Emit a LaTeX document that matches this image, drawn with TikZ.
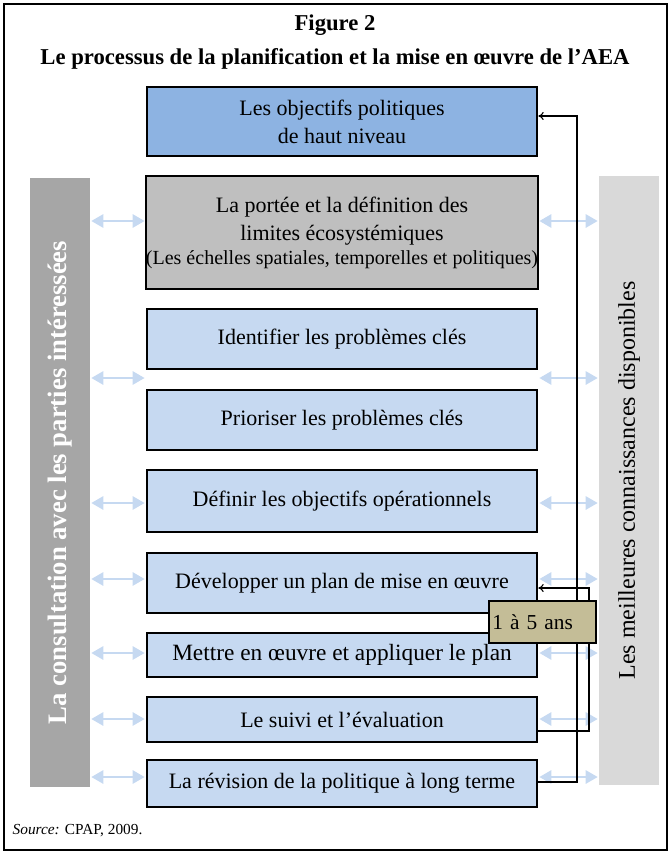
\documentclass[tikz,border=0pt]{standalone}
\usepackage{fontspec}
\setmainfont{Liberation Serif}
\usetikzlibrary{arrows.meta}

\definecolor{bleufonce}{RGB}{141,179,226}
\definecolor{bleuclair}{RGB}{198,217,241}
\definecolor{grisboite}{RGB}{191,191,191}
\definecolor{grisgauche}{RGB}{166,166,166}
\definecolor{grisdroite}{RGB}{217,217,217}
\definecolor{kaki}{RGB}{196,189,151}

\tikzset{
    etape/.style={draw, line width=2pt, fill=bleuclair, minimum width=292.5pt,
        inner sep=0pt, align=center, font=\fontsize{16.5}{21}\selectfont},
    barre/.style={minimum width=456.75pt, minimum height=45pt, inner sep=0pt, rotate=90},
    lien/.style={draw=bleuclair, line width=1.5pt, shorten >=0.8pt, shorten <=0.8pt,
        {Triangle[length=9pt,width=10pt]}-{Triangle[length=9pt,width=10pt]}},
    boucle/.style={draw, line width=0.8pt, -{To[length=4pt,width=6pt]}},
    duree/.style={draw, line width=0.8pt, fill=kaki, minimum width=80.25pt, minimum height=31.5pt,
        inner xsep=2.5pt, text width=75.25pt, align=left, font=\fontsize{16}{19}\selectfont},
}

\begin{document}
\begin{tikzpicture}[x=0.75pt, y=-0.75pt]

        \useasboundingbox (0,0) rectangle (670,853);

        % Cadre
        \draw[line width=1.1pt] (4,4) rectangle (667,850);

        % Titre
        \node[font=\bfseries\fontsize{17}{20}\selectfont] (numero) at (335,25) {Figure 2};
        \node[font=\bfseries\fontsize{17}{20}\selectfont] (titre) at (335,59)
            {Le processus de la planification et la mise en œuvre de l’AEA};

        % Les barres laterales
        \node[barre, fill=grisgauche, text=white, font=\bfseries\fontsize{20}{24}\selectfont]
            (consultation) at (60,482.5) {La consultation avec les parties intéressées};
        \node[barre, fill=grisdroite, font=\fontsize{18}{22}\selectfont]
            (connaissances) at (629,480.5) {Les meilleures connaissances disponibles};

        % Les etapes
        \node[etape, fill=bleufonce, minimum height=51.75pt] (objectifs) at (342,121.5)
            {Les objectifs politiques\\de haut niveau};
        \node[etape, fill=grisboite, minimum height=84.75pt] (portee) at (342,232.5)
            {La portée et la définition des\\limites écosystémiques\\[-3pt]
             {\fontsize{15}{18}\selectfont(Les échelles spatiales, temporelles et politiques)}};
        \node[etape, minimum height=45pt] (identifier) at (342,339) {Identifier les problèmes clés};
        \node[etape, minimum height=45pt] (prioriser) at (342,420) {Prioriser les problèmes clés};
        \node[etape, minimum height=46.5pt] (definir) at (342,501) {Définir les objectifs opérationnels};
        \node[etape, minimum height=45pt] (developper) at (342,583) {Développer un plan de mise en œuvre};
        \node[etape, minimum height=33pt, font=\fontsize{17.5}{21}\selectfont] (mettre) at (342,655)
            {Mettre en œuvre et appliquer le plan};
        \node[etape, minimum height=33.75pt] (suivi) at (342,719.5) {Le suivi et l’évaluation};
        \node[etape, minimum height=35.25pt] (revision) at (342,783.5) {La révision de la politique à long terme};

        % Les liens avec les barres
        \foreach \yy in {221,378,503,579,653,719,777} {
            \draw[lien] (consultation.south |- 0,\yy) -- (objectifs.west |- 0,\yy);
            \draw[lien] (objectifs.east |- 0,\yy) -- (connaissances.north |- 0,\yy);
        }

        % Boucle longue : revision -> objectifs
        \coordinate (coinbas) at (577,782);
        \coordinate (coinhaut) at (577,116);
        \draw[boucle] (revision.east |- coinbas) -- (coinbas) -- (coinhaut) -- (objectifs.east |- coinhaut);

        % Boucle courte : suivi -> developper
        \coordinate (coin2bas) at (589,731);
        \coordinate (coin2haut) at (589,588);
        \draw[boucle] (suivi.east |- coin2bas) -- (coin2bas) -- (coin2haut) -- (developper.east |- coin2haut);

        % 1 a 5 ans
        \node[duree] (ans) at (542.5,622) {1 à 5 ans};

        % Source
        \node[anchor=west, font=\fontsize{11.5}{14}\selectfont] (source) at (8,831)
            {\textit{Source:} CPAP, 2009.};

    \end{tikzpicture}
\end{document}
